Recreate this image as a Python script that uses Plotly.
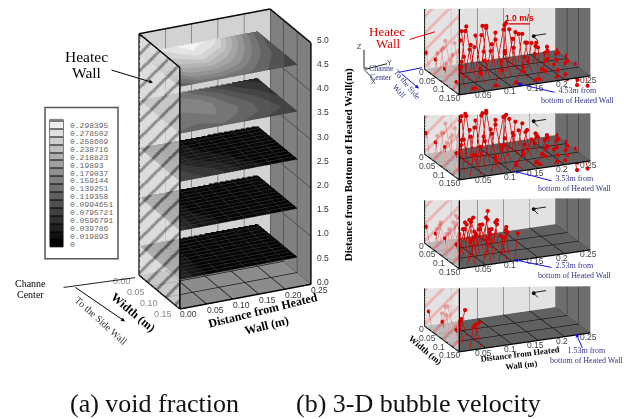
import math
import numpy as np
import plotly.graph_objects as go

W, H = 624, 419
# ---------- data ----------
LEVEL_LABELS = ["0.298395","0.278502","0.258609","0.238716","0.218823","0.19893","0.179037","0.159144",
                "0.139251","0.119358","0.0994651","0.0795721","0.0596791","0.039786","0.019893","0"]
LEVEL_VALUES = [0.298395,0.278502,0.258609,0.238716,0.218823,0.19893,0.179037,0.159144,
                0.139251,0.119358,0.0994651,0.0795721,0.0596791,0.039786,0.019893,0.0]
SLICE_X = [0, .045, .09, .135, .18, .225]
SLICE_Y = [0, .03, .06, .09, .12, .15]
SLICE_HEIGHTS = [4.6, 3.63, 2.64, 1.62, 0.61]
VOID_46 = [[.24,.28,.30,.29,.20,.12],[.22,.26,.29,.26,.18,.11],[.20,.24,.26,.22,.16,.10],
           [.18,.21,.22,.19,.14,.10],[.14,.18,.18,.16,.12,.09],[.12,.14,.14,.13,.11,.08]]
VOID_36 = [[.16,.15,.13,.09,.06,.05],[.17,.17,.15,.12,.08,.06],[.17,.16,.17,.13,.10,.07],
           [.16,.15,.16,.14,.11,.08],[.15,.14,.15,.13,.11,.09],[.13,.12,.13,.11,.09,.08]]
VOID_26 = [[.06,.02,.01,.01,.01,.01],[.07,.03,.015,.01,.01,.01],[.08,.04,.02,.01,.01,.01],
           [.09,.05,.03,.015,.01,.01],[.09,.07,.05,.02,.01,.01],[.09,.08,.06,.03,.015,.01]]
VOID_16 = [[.06,.015,.01,.01,.01,.01],[.06,.02,.01,.01,.01,.01],[.07,.02,.01,.01,.01,.01],
           [.07,.02,.015,.01,.01,.01],[.07,.025,.015,.01,.01,.01],[.07,.03,.015,.01,.01,.01]]
VOID_06 = [[.05,.015,.01,.01,.01,.01],[.05,.015,.01,.01,.01,.01],[.06,.02,.01,.01,.01,.01],
           [.06,.02,.01,.01,.01,.01],[.06,.02,.01,.01,.01,.01],[.06,.02,.01,.01,.01,.01]]
VOIDS = [VOID_46, VOID_36, VOID_26, VOID_16, VOID_06]

ARROW_X = [.005,.025,.045,.065,.085,.105,.125,.145,.165,.185,.205,.225,.245]
ARROW_X_253 = [.005,.02,.035,.05,.065,.08,.095,.11]
ARROW_Y7 = [.01,.03,.05,.07,.09,.115,.14]
ARROW_Y5 = [.02,.05,.08,.11,.14]
W_453 = [[.8,.9,1.2,1.5,1.7,1.5,1.6,1.6,1.3,.6,.4,.3,.1],
         [.9,1.0,1.3,1.7,1.4,1.8,1.5,1.7,1.2,.8,.5,.3,.15],
         [.8,.9,1.4,1.1,1.6,1.6,1.3,1.5,1.4,.9,.4,.3,.15],
         [.7,.8,1.2,1.4,1.0,1.3,1.4,1.0,1.1,.6,.3,.2,.1],
         [.7,.9,1.1,1.2,.8,1.1,1.0,.7,.5,.4,.2,.2,.1],
         [.7,.9,.7,.5,.9,.5,.5,.3,.3,.2,.15,-.3,-.4],
         [.5,.1,.1,.1,.1,.1,.1,.1,.1,.1,.15,-.4,-.5]]
W_353 = [[1.0,.9,1.3,1.6,1.5,1.5,1.6,1.3,1.1,.5,.3,.15,.1],
         [1.0,1.1,1.5,1.7,1.6,1.7,1.4,1.4,1.0,.6,.3,.2,.1],
         [.9,1.1,1.4,1.3,1.6,1.5,1.3,1.3,.9,.6,.3,.2,.1],
         [1.0,1.2,1.4,1.1,1.3,1.1,1.0,.9,.6,.4,.2,.1,.1],
         [1.0,1.2,1.2,1.2,1.0,1.0,.7,.6,.4,.3,.2,.1,.1],
         [1.0,1.2,1.0,1.0,.9,.8,.5,.4,.3,.2,.15,.1,-.3],
         [1.1,.9,.9,.7,.5,.3,.2,.2,.1,.1,.1,-.4,-.4]]
W_253 = [[.8,.9,.8,1.0,1.1,.9,.8,1.1],[.8,.8,.9,1.0,.9,1.0,.9,1.0],[.8,.9,.9,1.0,1.1,.9,.9,1.0],
         [.9,.9,1.0,1.0,.9,.9,1.0,1.1],[.9,1.0,.9,.9,1.0,1.0,1.0,1.0],[.9,1.0,1.0,.9,1.0,1.1,1.0,1.1],
         [1.0,1.1,1.0,1.1,1.0,1.0,1.1,1.1]]
W_153 = [[.8,.9,.9],[.9,.8,.9],[.8,.7,.8],[.8,.8,.8],[.9,.9,1.0]]
LEAN_X = [-.006,.006,-.01,.008,-.01,.008,-.012,.006,-.008,.006,.002,.004,.004]
LEAN_ROW = [1,-1,1,-1,1,-1,1]

Z_TICKS = [0,.5,1,1.5,2,2.5,3,3.5,4,4.5,5]
X_TICKS_A = [0,.05,.10,.15,.20,.25]
Y_TICKS_A = [0,.05,.10,.15]
X_TICKS_B = [.05,.1,.15,.2,.25]
X_LABELS_B = ["0.05","0.1","0.15","0.2","0.25"]
Y_TICKS_B = [0,.05,.1,.15]
Y_LABELS_B = ["0","0.05","0.1","0.150"]

# ---------- helpers ----------
SANS = "Liberation Sans"; SERIF = "Liberation Serif"; MONO = "Liberation Mono"
FLAT = dict(ambient=1,diffuse=0,specular=0,roughness=1,fresnel=0)
PADX, PADY = .002, .002
XR = [-PADX, .25+PADX]; YR = [-.15-PADY, PADY]
FX, FY = (.25+2*PADX)/.25, (.15+2*PADY)/.15
def neg(a):
    return (-np.array(a, float)).tolist()
def uniform(x, y, z, color, opacity=1):
    return go.Surface(x=x, y=neg(y), z=z, surfacecolor=np.zeros_like(np.array(z, float)), cmin=0, cmax=1,
                      colorscale=[[0,color],[1,color]], showscale=False, opacity=opacity, lighting=FLAT, hoverinfo="skip")
def lines(segs, color, width, scene):
    xs, ys, zs = [], [], []
    for a, b in segs:
        xs += [a[0], b[0], None]; ys += [-a[1], -b[1], None]; zs += [a[2], b[2], None]
    return go.Scatter3d(x=xs, y=ys, z=zs, mode="lines", line=dict(color=color, width=width), scene=scene,
                        hoverinfo="skip", showlegend=False)
def hatch(scene, ylen_px, zpx, yslope_px, ztop_fn, light, mid, stripe, spacing, sw, opacity):
    ys = np.linspace(0, .15, int(ylen_px*1.2)+2)
    vs = np.linspace(0, 1, 240)
    Y, V = np.meshgrid(ys, vs)
    Z = V*ztop_fn(0.0, Y)
    right = Y/.15*ylen_px
    up = Z*zpx - Y/.15*yslope_px
    s = np.where(np.mod(up-right, spacing) < sw, 1.0, 0.0)
    fine = np.indices(Y.shape).sum(axis=0) % 2 * .25
    c = np.maximum(s, fine)
    return go.Surface(x=np.zeros_like(Y), y=-Y, z=Z, surfacecolor=c, cmin=0, cmax=1,
                      colorscale=[[0,light],[.25,mid],[1,stripe]], showscale=False, opacity=opacity,
                      lighting=FLAT, hoverinfo="skip", scene=scene)

fig = go.Figure()
annots = []
def text(x, y, s, size, color="#000", family=SERIF, angle=0, bold=False):
    annots.append(dict(xref="paper", yref="paper", x=x/W, y=1-y/H, text=f"<b>{s}</b>" if bold else s, showarrow=False,
                       font=dict(size=size, color=color, family=family), textangle=angle,
                       xanchor="center", yanchor="middle", align="center"))
def arrow(x0, y0, x1, y1, color, width=1, head=2, size=.8):
    annots.append(dict(xref="paper", yref="paper", x=x1/W, y=1-y1/H, text="", showarrow=True, axref="pixel", ayref="pixel",
                       ax=x0-x1, ay=y0-y1, arrowcolor=color, arrowwidth=width, arrowhead=head, arrowsize=size, standoff=0))

# ---------- left scene ----------
AZ_L, EL_L = math.radians(25.5), math.radians(23.3)
D_L = 3.0
vp = (100, 350, 0, 320)
sc = "scene"
PZ = 48.8
fig.add_trace(uniform([[0,.25],[0,.25]],[[0,0],[.15,.15]],[[0,0],[0,0]],"#8c8c8c")); fig.data[-1].scene = sc
fig.add_trace(uniform([[0,.25],[0,.25]],[[0,0],[0,0]],[[0,0],[5,5]],"#d2d2d2")); fig.data[-1].scene = sc
fig.add_trace(uniform([[.25,.25],[.25,.25]],[[0,.15],[0,.15]],[[0,0],[5,5]],"#808080")); fig.data[-1].scene = sc
steps = []
n = len(LEVEL_VALUES)
cmax = .31
for i, v in enumerate(sorted(LEVEL_VALUES)):
    g = int(min(250, v/.298395*245))
    steps += [[i/n, f"rgb({g},{g},{g})"], [(i+1)/n, f"rgb({g},{g},{g})"]]
for k, (h, vals) in enumerate(zip(SLICE_HEIGHTS, VOIDS)):
    zz = np.full((len(SLICE_Y), len(SLICE_X)), h)
    grid = k >= 2
    fig.add_trace(go.Surface(x=SLICE_X, y=neg(SLICE_Y), z=zz, surfacecolor=vals, cmin=0, cmax=cmax, colorscale=steps,
                             showscale=False, opacity=.97, scene=sc, hoverinfo="skip", lighting=FLAT,
                             contours=dict(x=dict(show=grid,start=0,end=.225,size=.025,color="#3c3c3c",width=1),
                                           y=dict(show=grid,start=-.15,end=0,size=.0125,color="#3c3c3c",width=1))))
fig.add_trace(hatch(sc, 41, PZ, 34, lambda x,y: 5.0+0*y, "#f2f2f2", "#cfcfcf", "#6e6e6e", 17, 4, .72))
g1 = [((x,0,0),(x,0,5)) for x in (.05,.1,.15,.2)]
g1 += [((.25,y,0),(.25,y,5)) for y in (.05,.1)]
g1 += [((.25,0,z),(.25,.15,z)) for z in (1,2,3,4)]
g1 += [((x,0,0.01),(x,.15,0.01)) for x in (.05,.1,.15,.2)] + [((0,y,0.01),(.25,y,0.01)) for y in (.05,.1)]
fig.add_trace(lines(g1, "#1a1a1a", 1.5, sc))
edges = [((0,0,5),(.25,0,5)),((.25,0,5),(.25,.15,5)),((.25,.15,5),(.25,.15,0)),((.25,.15,0),(0,.15,0)),
         ((0,.15,0),(0,0,0)),((0,0,0),(0,0,5)),((.25,0,5),(.25,0,0)),((0,0,5),(0,.15,5)),((0,.15,5),(0,.15,0)),
         ((.25,0,0),(.25,.15,0)),((0,0,0),(.25,0,0))]
fig.add_trace(lines(edges, "#000", 3, sc))
sa = []
for t in X_TICKS_A:
    sa.append(dict(x=t,y=-.15,z=0,text=f"{t:.2f}",showarrow=False,xshift=9,yshift=-5,font=dict(family=SANS,size=8.5,color="#333")))
for t in Y_TICKS_A:
    sa.append(dict(x=0,y=-t,z=0,text=f"{t:.2f}",showarrow=False,xshift=-17,yshift=-5,font=dict(family=SANS,size=9,color="#888")))
for t in Z_TICKS:
    sa.append(dict(x=.25,y=-.15,z=t,text=f"{t:.1f}",showarrow=False,xshift=12,yshift=3,font=dict(family=SANS,size=8.5,color="#333")))
dx, dy, dz = -math.sin(AZ_L)*math.cos(EL_L), -math.cos(AZ_L)*math.cos(EL_L), math.sin(EL_L)
def scene_layout(vp, asp, eye, xr, yr, zr, ann):
    return dict(domain=dict(x=[vp[0]/W, vp[1]/W], y=[1-vp[3]/H, 1-vp[2]/H]),
                xaxis=dict(visible=False, range=xr), yaxis=dict(visible=False, range=yr), zaxis=dict(visible=False, range=zr),
                aspectmode="manual", aspectratio=dict(x=asp[0], y=asp[1], z=asp[2]),
                camera=dict(eye=dict(x=eye[0], y=eye[1], z=eye[2]), up=dict(x=0,y=0,z=1), center=dict(x=0,y=0,z=0),
                            projection=dict(type="orthographic")),
                annotations=ann, bgcolor="rgba(0,0,0,0)")
layout_scenes = {"scene": scene_layout(vp, (FX*146/160,FY*95.3/160,(5.04/5)*264.6/160), (dx*D_L,dy*D_L,dz*D_L), XR, YR, [-.02,5.02], sa)}

# ---------- right scenes ----------
AZ_R, EL_R = math.radians(23.8), math.radians(19.1)
D_R = 3.0
PZR = 23.0
ZR = 5.0
vec = [-math.sin(AZ_R)*math.cos(EL_R), -math.cos(AZ_R)*math.cos(EL_R), math.sin(EL_R)]
panels = [("scene2", 73, 8, W_453, ARROW_X[:13], ARROW_Y7), ("scene3", 158.5, 115, W_353, ARROW_X[:13], ARROW_Y7),
          ("scene4", 247.5, 200, W_253, ARROW_X_253, ARROW_Y7), ("scene5", 331.5, 289, W_153, ARROW_X[:3], ARROW_Y5)]
for name, cy, crop, wmat, cols, rows in panels:
    def ztop(x, y, cy=cy, crop=crop):
        fy = cy + (.5 - x/.25)*17 + (y/.15 - .5)*26
        return (fy-crop)/PZR
    fig.add_trace(uniform([[0,.25],[0,.25]],[[0,0],[.15,.15]],[[0,0],[0,0]],"#606060")); fig.data[-1].scene = name
    fig.add_trace(uniform([[0,.25],[0,.25]],[[0,0],[0,0]],[[0,0],[ztop(0,0),ztop(.25,0)]],"#e2e2e2")); fig.data[-1].scene = name
    yy = [0,.05,.1,.15]
    fig.add_trace(uniform([[.25]*4,[.25]*4],[yy,yy],[[0]*4,[ztop(.25,y) for y in yy]],"#6e6e6e")); fig.data[-1].scene = name
    g = [((x,0,0),(x,0,ztop(x,0))) for x in (.05,.1,.15,.2)] + [((.25,y,0),(.25,y,ztop(.25,y))) for y in (.05,.1)]
    g += [((x,0,.01),(x,.15,.01)) for x in (.05,.1,.15,.2)] + [((0,y,.01),(.25,y,.01)) for y in (.05,.1)]
    fig.add_trace(lines(g, "#111", 1.5, name))
    e = [((0,.15,0),(.25,.15,0)),((0,0,0),(0,.15,0)),((.25,0,0),(.25,.15,0)),((0,0,0),(.25,0,0)),
         ((.25,0,0),(.25,0,ztop(.25,0))),((0,.15,0),(0,.15,ztop(0,.15))),((0,0,0),(0,0,ztop(0,0)))]
    fig.add_trace(lines(e, "#000", 2.5, name))
    segs, tx, ty, tz = [], [], [], []
    for r, row in enumerate(wmat):
        for c, w in enumerate(row):
            b = (cols[c], rows[r], 0.0); t = (cols[c]+LEAN_X[c]*LEAN_ROW[r], rows[r], w)
            segs.append((b,t)); tx.append(t[0]); ty.append(-t[1]); tz.append(t[2])
    fig.add_trace(lines(segs, "#d40000", 1.5, name))
    fig.add_trace(go.Scatter3d(x=tx,y=ty,z=tz,mode="markers",marker=dict(size=2.4,color="#d80000"),scene=name,hoverinfo="skip",showlegend=False))
    fig.add_trace(hatch(name, 35, PZR, 26, lambda x,y: ztop(0,y), "#f0f0f0", "#d8d8d8", "#f2a0a0", 17, 4, .7))
    ann = []
    for t,l in zip(X_TICKS_B, X_LABELS_B):
        ann.append(dict(x=t,y=-.15,z=0,text=l,showarrow=False,xshift=-2,yshift=-4,font=dict(family=SANS,size=8.5,color="#444")))
    for t,l in zip(Y_TICKS_B, Y_LABELS_B):
        ann.append(dict(x=0,y=-t,z=0,text=l,showarrow=False,xshift=(-3 if l=="0" else -9),yshift=-3,font=dict(family=SANS,size=8.5,color="#444")))
    vpn = (415, 600, cy-65, cy+65)
    layout_scenes[name] = scene_layout(vpn, (FX*144.3/65,FY*86.7/65,(2*ZR*PZR/math.cos(EL_R))/65), [v*D_R for v in vec], XR, YR, [-ZR,ZR], ann)

# ---------- legend (levels) ----------
lev = sorted(LEVEL_VALUES) + [.3183]
fig.add_trace(go.Heatmap(x=[0], y=lev, z=[[v] for v in lev], colorscale=[[0,"#000"],[1,"#fff"]], zmin=0, zmax=.318,
                         showscale=False, ygap=1, xaxis="x", yaxis="y", hoverinfo="skip"))

# ---------- texts ----------
text(86,57,"Heatec",15.5); text(86,73,"Wall",15.5); arrow(110,70,153,83,"#000",1,2)
text(30,285,"Channe",10); text(30,296,"Center",10)
annots.append(dict(xref="paper",yref="paper",x=135/W,y=1-279/H,text="",showarrow=True,axref="pixel",ayref="pixel",ax=-73,ay=10,arrowcolor="#222",arrowwidth=1,arrowhead=0))
arrow(74,288,125,323,"#000",1,2)
text(101,322,"To the Side Wall",10,"#333",angle=42)
text(133,313,"Width (m)",12,bold=True,angle=40)
text(265,320,"Distance from Heated<br>Wall (m)",12,bold=True,angle=-14)
text(348,166,"Distance from Bottom of Heated Wall(m)",11,bold=True,angle=-90)
text(154,405,"(a) void fraction",26,"#111"); text(419,405,"(b) 3-D bubble velocity",26,"#111")
text(387,32,"Heatec",13,"#e00000"); text(388,44,"Wall",13,"#e00000"); arrow(408,40,435,32,"#f00000",1,0)
text(360,47,"Z",7,"#333",SANS); text(389,63,"Y",7,"#333",SANS); text(373,82,"X",7,"#333",SANS)
for a in [(364,70,364,50),(364,70,387,64),(364,70,373,79)]:
    arrow(*a,"#222",1,0)
text(365,68,"▪",14,"#888",SANS)
text(381,69,"Channe",8,"#33338a"); text(381,78,"Center",8,"#33338a")
annots.append(dict(xref="paper",yref="paper",x=422/W,y=1-68/H,text="",showarrow=True,axref="pixel",ayref="pixel",ax=-25,ay=5,arrowcolor="#1010d0",arrowwidth=1,arrowhead=0))
arrow(400,73,419,89,"#1010e0",1,2)
text(403,88,"To the Side<br>Wall",8,"#33338a",angle=50)
text(519,18,"1.0 m/s",8.5,"#e00000",SANS,bold=True); arrow(507,24,530,24,"#e00000",1.3,0)
for cy,(l1,tx,ty,ax0,ay0,ax1,ay1) in {36:("4.53m from",578,92,556,93,517,84),122:("3.53m from",575,180,553,182,514,172),
                             210:("2.53m from",575,268,553,269,514,261),294:("1.53m from",587,353,583,351,576,335)}.items():
    text(tx,ty+4,f"{l1}<br>bottom of Heated Wall",8,"#33338a"); arrow(ax0,ay0,ax1,ay1,"#1010e0",1,2)
    arrow(533,cy,546,cy-2,"#222",1,0); arrow(533,cy,538,cy+5,"#222",1,0); text(533,cy,"●",9,"#111",SANS)
text(425,352,"Width (m)",9,bold=True,angle=40)
text(520,361,"Distance from Heated<br>Wall (m)",8.5,bold=True,angle=-7)

fig.update_layout(width=W, height=H, margin=dict(l=0,r=0,t=0,b=0), paper_bgcolor="#fff", plot_bgcolor="#000",
    showlegend=False, annotations=annots,
    shapes=[dict(type="rect",xref="paper",yref="paper",x0=45/W,x1=118/W,y0=1-260/H,y1=1-108/H,
                 line=dict(color="#555",width=1.5),fillcolor="#fff",layer="below"),
            dict(type="rect",xref="paper",yref="paper",x0=50/W,x1=63/W,y0=1-248/H,y1=1-120/H,
                 line=dict(color="#000",width=1),fillcolor="#000",layer="below")],
    xaxis=dict(domain=[50/W,63/W],visible=False,fixedrange=True),
    yaxis=dict(domain=[1-248/H,1-120/H],side="right",range=[-.0075,.3133],tickvals=LEVEL_VALUES,ticktext=LEVEL_LABELS,
               showgrid=False,zeroline=False,showline=False,ticks="",ticklabelstandoff=6,tickfont=dict(family=MONO,size=8,color="#666")),
    **layout_scenes)
fig.write_html("out.html", config={"displayModeBar":False}, post_script="document.body.style.margin='0';document.body.style.overflow='hidden';")
